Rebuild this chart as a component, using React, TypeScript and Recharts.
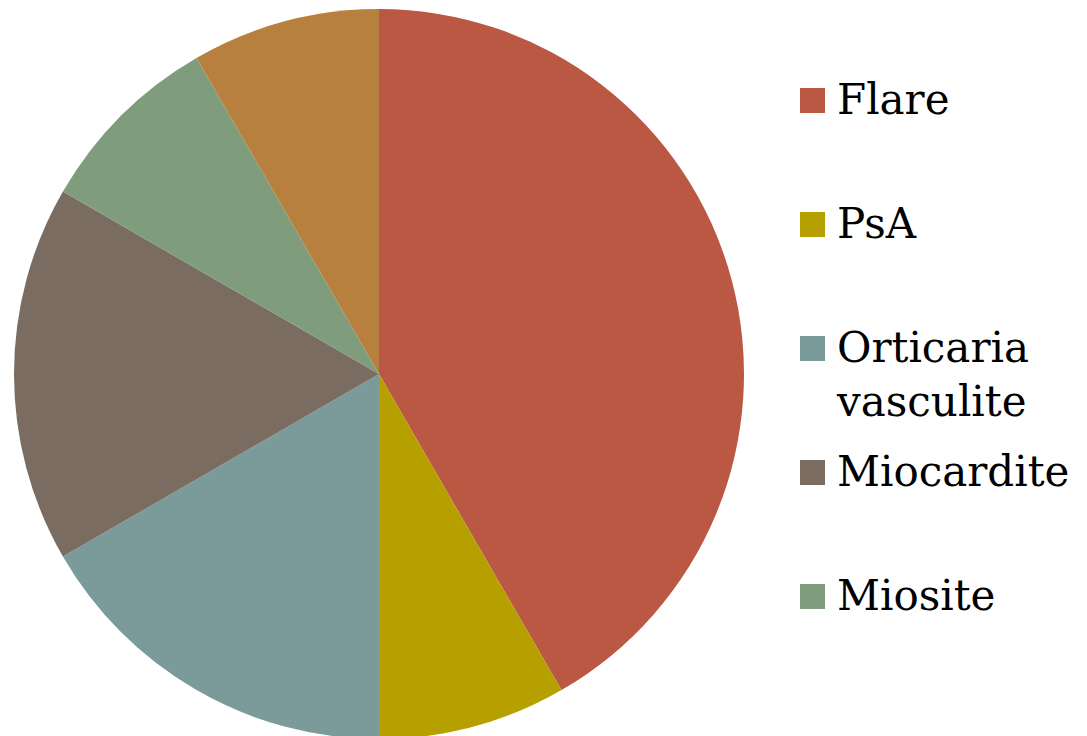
import { PieChart, Pie, Cell, Legend } from "recharts";

const categories = ["Flare", "PsA", "Orticaria vasculite", "Miocardite", "Miosite", "Altro"];
const values = [5, 1, 2, 2, 1, 1];
const colors = ["#BA5843", "#B5A000", "#7B9A9A", "#7A6C60", "#7F9C7C", "#B8803F"];
// only the first five entries appear in the legend of the original
const legendItems = categories.slice(0, 5);

const data = categories.map((name, i) => ({ name, value: values[i] }));

const renderLegend = () => (
    <div style={{ fontFamily: "'DejaVu Serif', Georgia, serif", fontSize: 42, lineHeight: "54px", color: "#000" }}>
        {legendItems.map((name, i) => (
            <div key={name} style={{ display: "flex", alignItems: "flex-start", height: 124 }}>
                <div style={{ width: 25, height: 25, marginTop: 15, marginRight: 12, background: colors[i], flexShrink: 0 }} />
                <div style={{ width: 250 }}>{name}</div>
            </div>
        ))}
    </div>
);

export default function App() {
    return (
        <div style={{ position: "absolute", left: 0, top: 0, width: 1087, height: 736, background: "#fff", overflow: "hidden" }}>
            <PieChart width={1087} height={736} margin={{ top: 0, right: 0, bottom: 0, left: 0 }}>
                <Pie
                    data={data}
                    dataKey="value"
                    cx={379}
                    cy={374}
                    outerRadius={365}
                    startAngle={90}
                    endAngle={-270}
                    stroke="none"
                    isAnimationActive={false}
                >
                    {data.map((entry, index) => (
                        <Cell key={`cell-${index}`} fill={colors[index]} />
                    ))}
                </Pie>
                <Legend
                    content={renderLegend}
                    layout="vertical"
                    wrapperStyle={{ position: "absolute", left: 800, top: 73, width: 287 }}
                />
            </PieChart>
        </div>
    );
}
